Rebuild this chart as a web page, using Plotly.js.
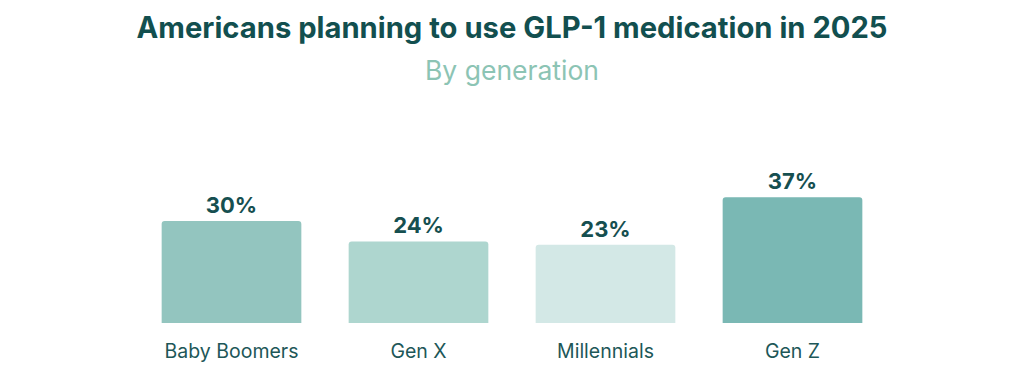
<!DOCTYPE html>
<html><head><meta charset="utf-8">
<script src="https://cdn.plot.ly/plotly-3.0.1.min.js"></script>
<style>html,body{margin:0;padding:0;background:#fff}#c{width:1024px;height:370px}</style>
</head><body><div id="c"></div>
<script>
const categories = ["Baby Boomers", "Gen X", "Millennials", "Gen Z"];
const values = [30, 24, 23, 37];
const labels = ["30%", "24%", "23%", "37%"];
const barColors = ["#93c5bf", "#aed6cf", "#d3e8e6", "#7ab8b4"];

const trace = {
  type: "bar",
  x: categories,
  y: values,
  text: labels,
  textposition: "outside",
  cliponaxis: false,
  textfont: {family: "Inter, 'Noto Sans', sans-serif", size: 22, color: "#164f50", weight: 700},
  marker: {color: barColors, cornerradius: 3},
  width: 0.747,
  hoverinfo: "skip"
};

const layout = {
  width: 1024, height: 370,
  paper_bgcolor: "#fff", plot_bgcolor: "#fff",
  margin: {l: 138, r: 138, t: 187, b: 47},
  showlegend: false,
  title: {
    text: "<b>Americans planning to use GLP-1 medication in 2025</b>",
    font: {family: "Inter, 'Noto Sans', sans-serif", size: 29.2, color: "#124f4f"},
    x: 0.5, xanchor: "center", xref: "paper",
    y: 1 - 28/370, yanchor: "middle", yref: "container"
  },
  annotations: [{
    text: "By generation", xref: "paper", yref: "paper",
    x: 0.5, xanchor: "center", y: 1 + (187 - 70) / 136, yanchor: "middle",
    showarrow: false,
    font: {family: "Inter, 'Noto Sans', sans-serif", size: 26.5, color: "#8cc4b4"}
  }],
  xaxis: {
    showgrid: false, zeroline: false, showline: false, ticks: "",
    tickfont: {family: "Inter, 'Noto Sans', sans-serif", size: 19.5, color: "#1d5758"},
    ticklabelstandoff: 14, fixedrange: true
  },
  yaxis: {range: [0, 40], visible: false, fixedrange: true},
  bargap: 0.253
};
Plotly.newPlot("c", [trace], layout, {displayModeBar: false, staticPlot: true});
</script></body></html>
